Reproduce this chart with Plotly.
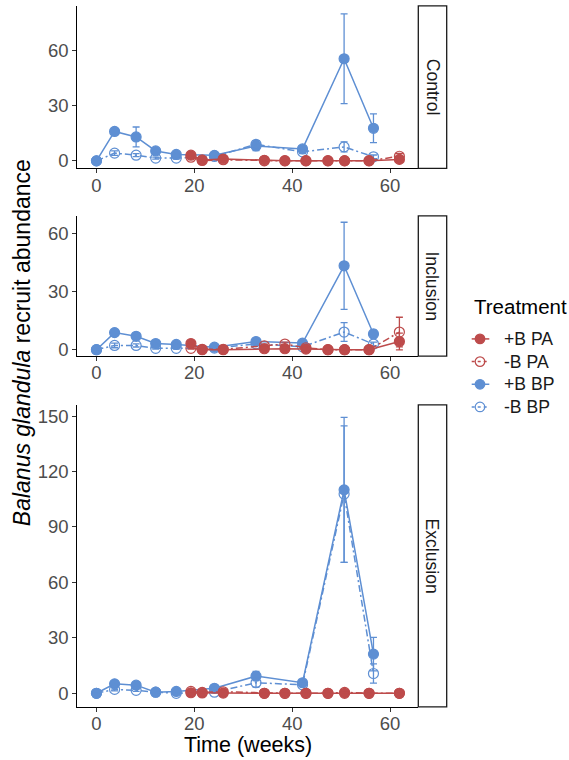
import plotly.graph_objects as go

# Sampling times (weeks) for the two plot types
weeks_bp = [0, 3.7, 8.1, 12.1, 16.3, 24.1, 32.6, 42.1, 50.6, 56.6]
weeks_pa = [19.3, 21.6, 25.9, 34.3, 38.5, 42.8, 47.3, 50.7, 55.7, 61.9]

panels = ["Control", "Inclusion", "Exclusion"]
y_ticks = [[0, 30, 60], [0, 30, 60], [0, 30, 60, 90, 120, 150]]
x_ticks = [0, 20, 40, 60]
treatments = ["+B PA", "-B PA", "+B BP", "-B BP"]

# Mean recruit abundance and standard error, per panel
control_pbp = [0, 16, 13, 5.4, 3.5, 3, 8.1, 6.5, 55.5, 17.7]
control_pbp_se = [0, 1.5, 5.4, 1.2, 0.8, 0.8, 2.5, 1.2, 24.4, 7.8]
control_mbp = [0, 4.2, 3.1, 1.5, 1.5, 2.4, 9, 4.9, 7.6, 2.2]
control_mbp_se = [0, 1.2, 0.8, 0.5, 0.5, 0.5, 2.0, 1.0, 2.7, 1.0]
control_ppa = [3.1, 0.5, 1.0, 0.3, 0.1, 0.1, 0.1, 0.1, 0.1, 0.8]
control_ppa_se = [0.6, 0.3, 0.4, 0.2, 0.1, 0.1, 0.1, 0.1, 0.1, 0.4]
control_mpa = [2.0, 0.2, 0.6, 0, 0, 0, 0, 0, 0, 2.5]
control_mpa_se = [0.6, 0.2, 0.3, 0, 0, 0, 0, 0, 0, 1.5]

inclusion_pbp = [0, 8.8, 6.9, 3.2, 2.7, 1.3, 4.2, 3.4, 43.2, 8.1]
inclusion_pbp_se = [0, 1.5, 1.5, 0.8, 0.6, 0.5, 1.2, 0.8, 22.4, 2.0]
inclusion_mbp = [0, 2.2, 2.2, 0.7, 0.7, 0.8, 3.0, 1.5, 9.1, 2.9]
inclusion_mbp_se = [0, 1.2, 0.8, 0.4, 0.4, 0.4, 0.8, 0.6, 4.8, 1.0]
inclusion_ppa = [3.2, 0, 0, 0.5, 0.5, 0.3, 0, 0, 0, 4.2]
inclusion_ppa_se = [0.8, 0, 0, 0.3, 0.3, 0.2, 0, 0, 0, 4.3]
inclusion_mpa = [0.7, 0.2, 0.2, 2.0, 2.9, 1.0, 0, 0, 0, 9.1]
inclusion_mpa_se = [0.4, 0.2, 0.2, 0.8, 1.0, 0.5, 0, 0, 0, 7.6]

exclusion_pbp = [0, 5.1, 4.4, 0.6, 1.0, 2.7, 9.3, 5.7, 110.1, 21.2]
exclusion_pbp_se = [0, 1.0, 1.0, 0.3, 0.4, 0.8, 2.5, 1.2, 39.2, 9.1]
exclusion_mbp = [0, 2.1, 1.6, 0.6, 0, 0.6, 5.7, 4.6, 107.8, 10.7]
exclusion_mbp_se = [0, 0.8, 0.6, 0.3, 0, 0.3, 2.4, 1.0, 36.9, 5.2]
exclusion_ppa = [0.3, 0.2, 0.1, 0, 0, 0, 0, 0, 0, 0]
exclusion_ppa_se = [0.2, 0.1, 0.1, 0, 0, 0, 0, 0, 0, 0]
exclusion_mpa = [1.0, 0.5, 0.8, 0, 0, 0, 0, 0.5, 0, 0]
exclusion_mpa_se = [0.4, 0.3, 0.3, 0, 0, 0, 0, 0.3, 0, 0]

RED = "#BD4B4B"
BLUE = "#5E8FD3"
DASH = "7px,3px,2px,3px"
FONT = "Liberation Sans, Arial, sans-serif"
W, H = 569, 760
TICK_SIZE = 18.5

# panel geometry in pixels: (top, bottom), and y ranges
panel_px = [(6, 169.3), (217, 358), (407, 710.7)]
y_ranges = [[-4.1, 84.2], [-3.3, 68.9], [-7.4, 156.1]]
x_left, x_right = 77.3, 418.0
x_range = [-3.92, 65.7]

series_by_panel = [
    (control_ppa, control_ppa_se, control_mpa, control_mpa_se,
     control_pbp, control_pbp_se, control_mbp, control_mbp_se),
    (inclusion_ppa, inclusion_ppa_se, inclusion_mpa, inclusion_mpa_se,
     inclusion_pbp, inclusion_pbp_se, inclusion_mbp, inclusion_mbp_se),
    (exclusion_ppa, exclusion_ppa_se, exclusion_mpa, exclusion_mpa_se,
     exclusion_pbp, exclusion_pbp_se, exclusion_mbp, exclusion_mbp_se),
]

# style of each treatment: (colour, filled marker)
styles = {
    "+B PA": (RED, True),
    "-B PA": (RED, False),
    "+B BP": (BLUE, True),
    "-B BP": (BLUE, False),
}

fig = go.Figure()


def add_series(i, name, x, y, se):
    color, filled = styles[name]
    suffix = "" if i == 0 else str(i + 1)
    fig.add_trace(go.Scatter(
        x=x, y=y,
        mode="lines+markers",
        name=name,
        showlegend=False,
        xaxis="x" + suffix, yaxis="y" + suffix,
        line=dict(color=color, width=1.5, dash="solid" if filled else DASH),
        marker=dict(
            symbol="circle" if filled else "circle-open",
            size=10,
            color=color,
            line=dict(color=color, width=1.2),
        ),
        error_y=dict(type="data", array=se, visible=True,
                     color=color, thickness=1.3, width=3.5),
    ))


for i, s in enumerate(series_by_panel):
    ppa, ppa_se, mpa, mpa_se, pbp, pbp_se, mbp, mbp_se = s
    # blue series first so the red ones sit on top where they cross
    add_series(i, "+B BP", weeks_bp, pbp, pbp_se)
    add_series(i, "-B BP", weeks_bp, mbp, mbp_se)
    add_series(i, "+B PA", weeks_pa, ppa, ppa_se)
    add_series(i, "-B PA", weeks_pa, mpa, mpa_se)

layout = dict(
    width=W, height=H,
    margin=dict(l=0, r=0, t=0, b=0),
    paper_bgcolor="white", plot_bgcolor="white",
    font=dict(family=FONT, color="#1A1A1A"),
    showlegend=False,
)

shapes = []
annotations = []
for i, (top, bot) in enumerate(panel_px):
    suffix = "" if i == 0 else str(i + 1)
    ax_dom = [x_left / W, x_right / W]
    ay_dom = [1 - bot / H, 1 - top / H]
    layout["xaxis" + suffix] = dict(
        domain=ax_dom, range=x_range, anchor="y" + suffix,
        tickmode="array", tickvals=x_ticks,
        showline=True, linecolor="#000000", linewidth=1.1,
        ticks="outside", ticklen=4, tickwidth=1.1, tickcolor="#333333",
        tickfont=dict(size=TICK_SIZE, color="#4D4D4D", family=FONT),
        ticklabelstandoff=-4,
        showgrid=False, zeroline=False,
    )
    layout["yaxis" + suffix] = dict(
        domain=ay_dom, range=y_ranges[i], anchor="x" + suffix,
        tickmode="array", tickvals=y_ticks[i],
        showline=True, linecolor="#000000", linewidth=1.1,
        ticks="outside", ticklen=4, tickwidth=1.1, tickcolor="#333333",
        tickfont=dict(size=TICK_SIZE, color="#4D4D4D", family=FONT),
        showgrid=False, zeroline=False,
    )
    # facet strip on the right
    shapes.append(dict(
        type="rect", xref="paper", yref="paper",
        x0=418.3 / W, x1=446.7 / W, y0=ay_dom[0], y1=ay_dom[1],
        line=dict(color="#1A1A1A", width=1.3), fillcolor="white",
    ))
    annotations.append(dict(
        text=panels[i], xref="paper", yref="paper",
        x=432.5 / W, y=(ay_dom[0] + ay_dom[1]) / 2,
        xanchor="center", yanchor="middle",
        showarrow=False, textangle=90,
        font=dict(size=17.6, color="#1A1A1A", family=FONT),
    ))

# legend keys: short line through a point marker, then the label
key_x0, key_x1, key_cx, label_x = 471.7, 489.3, 480.0, 501.7
key_rows = [340.7, 363.5, 386.3, 409.1]
for name, row in zip(treatments, key_rows):
    color, filled = styles[name]
    yk = 1 - row / H
    shapes.append(dict(
        type="line", xref="paper", yref="paper",
        x0=key_x0 / W, x1=key_x1 / W, y0=yk, y1=yk,
        line=dict(color=color, width=1.5, dash="solid" if filled else "dot"),
    ))
    r = 4.8
    shapes.append(dict(
        type="circle", xref="paper", yref="paper",
        x0=(key_cx - r) / W, x1=(key_cx + r) / W,
        y0=yk - r / H, y1=yk + r / H,
        line=dict(color=color, width=1.2),
        fillcolor=color if filled else "rgba(0,0,0,0)",
    ))
    annotations.append(dict(
        text=name, xref="paper", yref="paper",
        x=label_x / W, y=yk, xanchor="left", yanchor="middle",
        showarrow=False,
        font=dict(size=17.6, color="#1A1A1A", family=FONT),
    ))

annotations.append(dict(
    text="Time (weeks)", xref="paper", yref="paper",
    x=(x_left + x_right) / 2 / W, y=1 - 749 / H,
    xanchor="center", yanchor="middle",
    showarrow=False, font=dict(size=21.5, color="#000000", family=FONT),
))
annotations.append(dict(
    text="<i>Balanus glandula</i> recruit abundance", xref="paper", yref="paper",
    x=22 / W, y=1 - 345 / H, xanchor="center", yanchor="middle",
    showarrow=False, textangle=-90,
    font=dict(size=23, color="#000000", family=FONT),
))
annotations.append(dict(
    text="Treatment", xref="paper", yref="paper",
    x=471.7 / W, y=1 - 308 / H, xanchor="left", yanchor="middle",
    showarrow=False,
    font=dict(size=20.5, color="#000000", family=FONT),
))

layout["shapes"] = shapes
layout["annotations"] = annotations
fig.update_layout(**layout)
fig.write_html("out.html")
